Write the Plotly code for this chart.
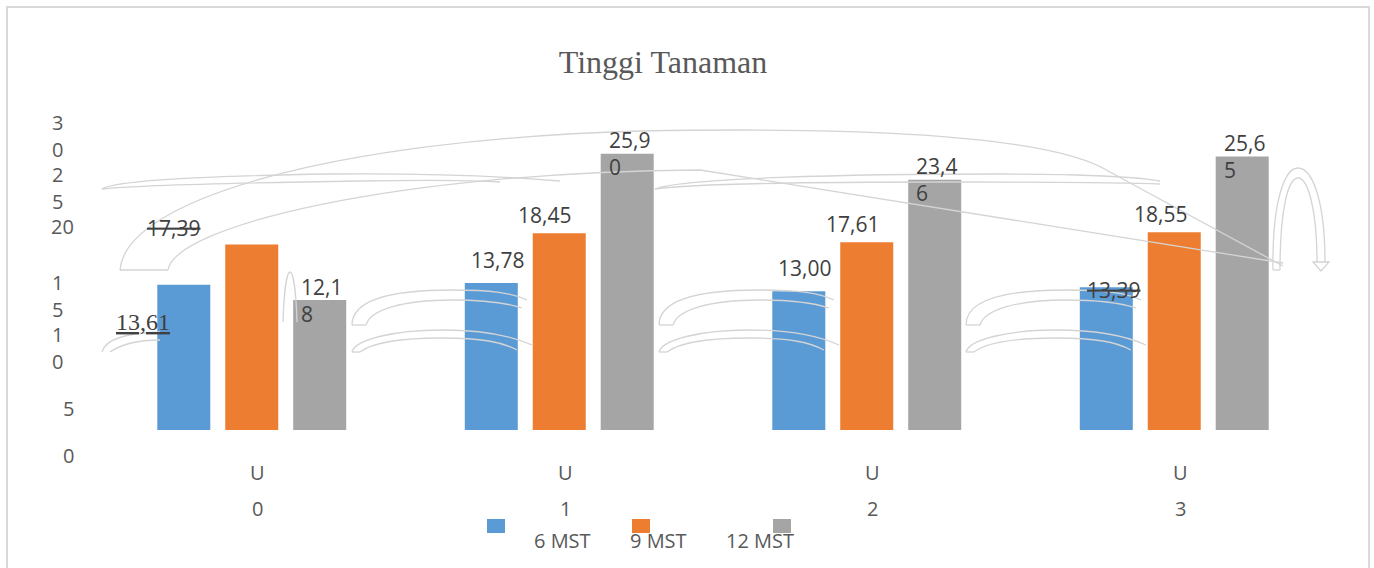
import re
import plotly.graph_objects as go

# ---- data -------------------------------------------------------------
categories = ["U0", "U1", "U2", "U3"]
series_names = ["6 MST", "9 MST", "12 MST"]
mst6 = [13.61, 13.78, 13.00, 13.39]
mst9 = [17.39, 18.45, 17.61, 18.55]
mst12 = [12.18, 25.90, 23.46, 25.65]
y_tick_text = ["0", "5", "1\n0", "1\n5", "20", "2\n5", "3\n0"]

# ---- canvas geometry (pixels) ----------------------------------------
W, H = 1374, 568
ML, MR, MT, MB = 98, 46, 110, 138
PW, PH = W - ML - MR, H - MT - MB
colors = ["#5B9BD5", "#ED7D31", "#A5A5A5"]
GRID_GREY = "#d4d4d4"
TXT = "#404040"
AXT = "#595959"
SANS = "Open Sans"


def pxx(x):
    return (x - ML) / PW


def pxy(y):
    return (H - MB - y) / PH


def to_paper(path):
    def conv(m):
        return f"{pxx(float(m.group(1))):.5f},{pxy(float(m.group(2))):.5f}"
    return re.sub(r"(-?\d+\.?\d*),(-?\d+\.?\d*)", conv, path)


def fmt(v):
    return f"{v:.2f}".replace(".", ",")


fig = go.Figure()
for name, vals, col in zip(series_names, [mst6, mst9, mst12], colors):
    fig.add_trace(go.Bar(x=categories, y=vals, name=name, marker_color=col,
                         marker_line_width=0, showlegend=False))

annotations = []

# value labels: per-series pixel offsets from each bar's top centre
bar_dx = [-68, 0, 68]
lab_off = [
    [(-41, -37), (6, 23), (6, 23), (7, -3)],
    [(-78, 17), (-15, 18), (-14, 18), (-14, 18)],
]
lab_style = [
    ["<u>{}</u>", "{}", "{}", "<s>{}</s>"],
    ["<s>{}</s>", "{}", "{}", "{}"],
]
for si, vals in enumerate([mst6, mst9]):
    for ci, v in enumerate(vals):
        dx, dy = lab_off[si][ci]
        serif = si == 0 and ci == 0
        annotations.append(dict(
            x=categories[ci], y=v, xref="x", yref="y",
            text=lab_style[si][ci].format(fmt(v)), showarrow=False,
            xanchor="center", yanchor="middle",
            xshift=bar_dx[si] + dx, yshift=dy,
            font=dict(family="Liberation Serif" if serif else SANS,
                      size=24 if serif else 21, color=TXT)))
# 12 MST labels wrap after the fourth character
for ci, v in enumerate(mst12):
    s = fmt(v)
    annotations.append(dict(
        x=categories[ci], y=v, xref="x", yref="y",
        text=s[:4] + "<br>" + s[4:], showarrow=False, align="left",
        xanchor="left", yanchor="middle", xshift=bar_dx[2] - 26.5 + 6, yshift=0,
        font=dict(family=SANS, size=21, color=TXT)))

# category labels, split over two lines
for ci, c in enumerate(categories):
    for li, part in enumerate([c[0], c[1:]]):
        annotations.append(dict(
            x=c, y=pxy(472 + 36 * li), xref="x", yref="paper", text=part,
            showarrow=False, xanchor="center", yanchor="middle", xshift=6,
            font=dict(family=SANS, size=20, color=AXT)))

# value-axis labels
y_tick_px = [(68, 455), (68, 408), (57, 348), (57, 296), (62, 226), (57, 188), (57, 136)]
for t, (tx, ty) in zip(y_tick_text, y_tick_px):
    lines = t.split("\n")
    for li, part in enumerate(lines):
        yy = ty + (li - (len(lines) - 1) / 2) * 27
        annotations.append(dict(
            x=pxx(tx), y=pxy(yy), xref="paper", yref="paper", text=part,
            showarrow=False, xanchor="center", yanchor="middle",
            font=dict(family=SANS, size=20, color=AXT)))

# legend
shapes = []
leg_sw = [487, 632, 773]
leg_tx = [562, 658, 760]
for name, col, sx, tx in zip(series_names, colors, leg_sw, leg_tx):
    shapes.append(dict(type="rect", xref="paper", yref="paper",
                       x0=pxx(sx), x1=pxx(sx + 18), y0=pxy(533), y1=pxy(519),
                       fillcolor=col, line_width=0))
    annotations.append(dict(
        x=pxx(tx), y=pxy(540), xref="paper", yref="paper", text=name,
        showarrow=False, xanchor="center", yanchor="middle",
        font=dict(family=SANS, size=20, color=AXT)))

# outer frame
shapes.append(dict(type="rect", xref="paper", yref="paper",
                   x0=pxx(7), x1=pxx(1369), y0=pxy(7), y1=pxy(575),
                   line=dict(color="#d9d9d9", width=2), fillcolor="rgba(0,0,0,0)"))

# decorative outline arrows
deco = [
    "M102,189 C115,180 200,176 330,174 C420,173 500,176 560,181",
    "M102,189 C130,186 230,183 360,181 C420,180 470,180 500,182",
    "M120,270 C125,200 330,140 640,131 C900,126 1060,140 1110,172 L1283,266",
    "M168,270 C175,225 400,172 700,170 L1283,263",
    "M120,270 L168,270",
    "M655,189 C680,178 850,174 1000,174 C1080,174 1140,177 1160,181",
    "M655,189 C690,184 800,182 950,182 C1050,182 1120,182 1160,184",
    "M283,322 C284,290 287,272 290,272 C293,272 296,290 297,322",
    "M1273,270 C1272,200 1285,168 1298,168 C1312,168 1325,200 1325,262",
    "M1280,270 C1280,210 1288,178 1298,178 C1308,178 1317,210 1317,262",
    "M1273,270 L1280,270",
    "M1313,262 L1329,262 L1321,271 Z",
    "M102,352 C105,340 125,333 160,332",
    "M110,352 C120,345 135,340 160,340",
]
for x0 in [352, 659, 966]:
    deco += [
        f"M{x0},325 C{x0},300 {x0+40},290 {x0+100},290 C{x0+140},290 {x0+160},293 {x0+175},300",
        f"M{x0+14},325 C{x0+18},310 {x0+50},300 {x0+100},300 C{x0+135},300 {x0+155},303 {x0+170},308",
        f"M{x0},325 L{x0+14},325",
        f"M{x0},352 C{x0+3},340 {x0+40},330 {x0+90},330 C{x0+130},330 {x0+160},336 {x0+180},345",
        f"M{x0+8},352 C{x0+20},343 {x0+50},338 {x0+90},338 C{x0+130},338 {x0+150},342 {x0+165},350",
        f"M{x0},352 L{x0+8},352",
    ]
for p in deco:
    shapes.append(dict(type="path", xref="paper", yref="paper", path=to_paper(p),
                       line=dict(color=GRID_GREY, width=1.3), layer="above"))

fig.update_layout(
    width=W, height=H, margin=dict(l=ML, r=MR, t=MT, b=MB, autoexpand=False),
    paper_bgcolor="white", plot_bgcolor="white",
    barmode="group", bargap=0.337, bargroupgap=0.22,
    title=dict(text="Tinggi Tanaman", x=663 / W, y=1 - 62 / H,
               xanchor="center", yanchor="middle",
               font=dict(family="Liberation Serif", size=32, color=AXT)),
    xaxis=dict(range=[-0.5, 3.5], showticklabels=False, showgrid=False,
               zeroline=False, showline=False, ticks=""),
    yaxis=dict(range=[0, 30], showticklabels=False, showgrid=False,
               zeroline=False, showline=False, ticks=""),
    annotations=annotations, shapes=shapes,
)

fig.write_html("out.html")
